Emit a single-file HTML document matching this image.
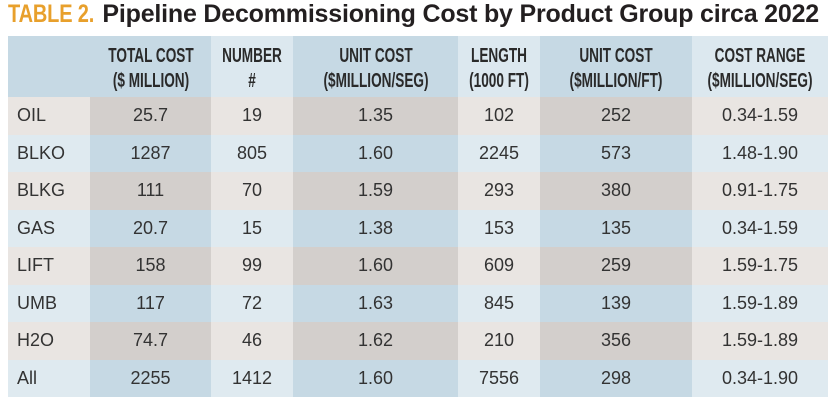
<!DOCTYPE html>
<html><head><style>
body{margin:0;width:839px;height:407px;background:#fff;font-family:"Liberation Sans",sans-serif;position:relative;overflow:hidden}
.t{position:absolute;left:8px;top:0px;font-size:25px;font-weight:bold;color:#231f20;white-space:nowrap;letter-spacing:-0.2px}
.t b{color:#e8a02c;display:inline-block;transform:scaleX(0.8);transform-origin:left;margin-right:-20px}
table{position:absolute;left:8px;top:36px;width:820px;border-collapse:collapse;table-layout:fixed}
td{padding:0;text-align:center;font-size:18px;color:#333;height:37.5px;overflow:visible}
tr.h td{height:61px;font-weight:bold;font-size:20px;line-height:25px;color:#2a2a2a;background:#c6d9e4}
tr.h td span{display:block;width:200px;margin-left:-100px;position:relative;left:50%;transform:scaleX(0.68);white-space:nowrap;padding-top:4px;text-align:center}
tr.h td.l{background:#dce8ef}
td:first-child{text-align:left;padding-left:9px}
tr.g td{background:#e9e5e2}tr.g td.d{background:#d3cfcc}
tr.b td{background:#dfeaf0}tr.b td.d{background:#c6d9e4}
</style></head><body>
<div class="t"><b>TABLE 2.</b> Pipeline Decommissioning Cost by Product Group circa 2022</div>
<table>
<colgroup><col style="width:82px"><col style="width:121px"><col style="width:82px"><col style="width:165px"><col style="width:82px"><col style="width:152px"><col style="width:136px"></colgroup>
<tr class="h"><td></td><td><span>TOTAL COST<br>($ MILLION)</span></td><td class="l"><span>NUMBER<br>#</span></td><td><span>UNIT COST<br>($MILLION/SEG)</span></td><td class="l"><span>LENGTH<br>(1000 FT)</span></td><td><span>UNIT COST<br>($MILLION/FT)</span></td><td class="l"><span>COST RANGE<br>($MILLION/SEG)</span></td></tr>
<tr class="g"><td>OIL</td><td class="d">25.7</td><td>19</td><td class="d">1.35</td><td>102</td><td class="d">252</td><td>0.34-1.59</td></tr>
<tr class="b"><td>BLKO</td><td class="d">1287</td><td>805</td><td class="d">1.60</td><td>2245</td><td class="d">573</td><td>1.48-1.90</td></tr>
<tr class="g"><td>BLKG</td><td class="d">111</td><td>70</td><td class="d">1.59</td><td>293</td><td class="d">380</td><td>0.91-1.75</td></tr>
<tr class="b"><td>GAS</td><td class="d">20.7</td><td>15</td><td class="d">1.38</td><td>153</td><td class="d">135</td><td>0.34-1.59</td></tr>
<tr class="g"><td>LIFT</td><td class="d">158</td><td>99</td><td class="d">1.60</td><td>609</td><td class="d">259</td><td>1.59-1.75</td></tr>
<tr class="b"><td>UMB</td><td class="d">117</td><td>72</td><td class="d">1.63</td><td>845</td><td class="d">139</td><td>1.59-1.89</td></tr>
<tr class="g"><td>H2O</td><td class="d">74.7</td><td>46</td><td class="d">1.62</td><td>210</td><td class="d">356</td><td>1.59-1.89</td></tr>
<tr class="b"><td>All</td><td class="d">2255</td><td>1412</td><td class="d">1.60</td><td>7556</td><td class="d">298</td><td>0.34-1.90</td></tr>
</table>
</body></html>
